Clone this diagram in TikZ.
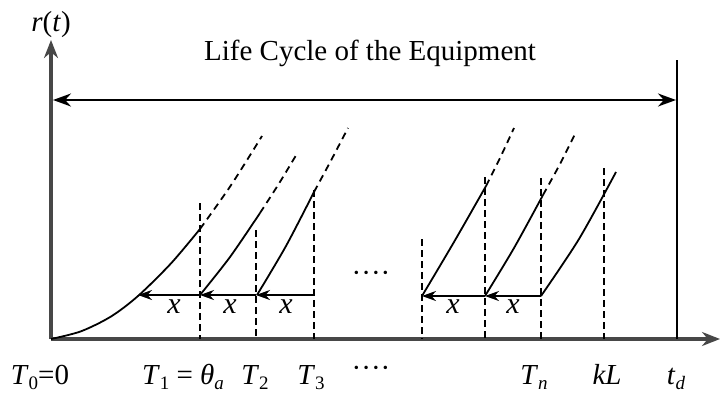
\documentclass[tikz,border=0pt]{standalone}
\usepackage{fontspec}
\setmainfont{Liberation Serif}
\usetikzlibrary{arrows.meta}
\newcommand\sbs[1]{\raisebox{-0.4ex}{\fontsize{19}{19}\selectfont #1}}
\tikzset{
  axisline/.style={line width=3.2pt, draw=black!72, -{Stealth[length=18pt,width=14pt]}},
  lifeline/.style={line width=2.2pt, {Stealth[length=18pt,width=13pt]}-{Stealth[length=18pt,width=13pt]}},
  curvesolid/.style={line width=1.8pt},
  curvedash/.style={line width=1.8pt, dash pattern=on 7pt off 5pt},
  vdash/.style={line width=1.6pt, dash pattern=on 7pt off 4pt},
  shiftarrow/.style={line width=2pt, -{Stealth[length=14pt,width=10pt]}},
  lbl/.style={inner sep=0pt, anchor=base, font=\fontsize{29}{31}\selectfont},
  xlbl/.style={inner sep=0pt, font=\fontsize{30}{31}\selectfont\itshape}
}
\begin{document}
\begin{tikzpicture}[x=1pt,y=-1pt]
\useasboundingbox (0,0) rectangle (720,394);
% axes
\coordinate (O) at (51,339);
\coordinate (ytop) at (51,40);
\coordinate (xend) at (720,339);
\draw[axisline] (O) -- (ytop);
\draw[axisline] (O) -- (xend);
\node[lbl] (rt) at (51,31) {\textit{r}(\textit{t})};
% life cycle
\node[lbl] (title) at (370,60) {Life Cycle of the Equipment};
\coordinate (lcL) at (53,100);
\coordinate (lcR) at (676,100);
\draw[lifeline] (lcL) -- (lcR);
\coordinate (tdtop) at (677,60);
\coordinate (tdbot) at (677,339);
\draw[line width=2pt] (tdtop) -- (tdbot);
% dashed verticals
\foreach \xx/\yy/\nm in {200/203/v1, 256/230/v2, 314/190/v3, 422/239/v4, 485/177/v5, 541/178/v6, 604/168/v7}{
  \coordinate (\nm t) at (\xx,\yy);
  \coordinate (\nm b) at (\xx,339);
  \draw[vdash] (\nm t) -- (\nm b);
}
% curves
\draw[curvesolid] plot[smooth] coordinates {(51,339) (81,331.3) (111,316.5) (138,296) (171,263.4) (200,229)};
\draw[curvedash] plot[smooth] coordinates {(200,229) (231,185.2) (262,136)};
\draw[curvesolid] plot[smooth] coordinates {(200,295) (230,257) (260,213)};
\draw[curvedash] plot[smooth] coordinates {(260,213) (279,183.5) (298,152)};
\draw[curvesolid] plot[smooth] coordinates {(257,295) (286,246) (314,192)};
\draw[curvedash] plot[smooth] coordinates {(314,192) (331,160.5) (348,128)};
\draw[curvesolid] plot[smooth] coordinates {(422,296) (454,242) (486,186)};
\draw[curvedash] plot[smooth] coordinates {(486,186) (500,158) (514,128)};
\draw[curvesolid] plot[smooth] coordinates {(485,296) (514,248) (543,195)};
\draw[curvedash] plot[smooth] coordinates {(543,195) (560,164) (576,132)};
\draw[curvesolid] plot[smooth] coordinates {(541,296) (579,239) (616,172)};
% shift arrows
\coordinate (a0) at (314,295);
\coordinate (a1) at (256,295);
\coordinate (a2) at (200,295);
\coordinate (a3) at (138,295);
\draw[shiftarrow] (a0) -- (a1);
\draw[shiftarrow] (a1) -- (a2);
\draw[shiftarrow] (a2) -- (a3);
\coordinate (b0) at (541,296);
\coordinate (b1) at (485,296);
\coordinate (b2) at (422,296);
\draw[shiftarrow] (b0) -- (b1);
\draw[shiftarrow] (b1) -- (b2);
\node[xlbl] (x1) at (174,307) {x};
\node[xlbl] (x2) at (230,307) {x};
\node[xlbl] (x3) at (286,307) {x};
\node[xlbl] (x4) at (453,307) {x};
\node[xlbl] (x5) at (513,307) {x};
% dots
\node[lbl] (dots1) at (371,282) {····};
\node[lbl] (dots2) at (371,377) {····};
% bottom labels
\node[lbl] (T0) at (40,384) {\textit{T}\sbs{0}=0};
\node[lbl] (T1) at (183,384) {\textit{T}\sbs{1} = \textit{θ}\sbs{\textit{a}}};
\node[lbl] (T2) at (255,384) {\textit{T}\sbs{2}};
\node[lbl] (T3) at (311,384) {\textit{T}\sbs{3}};
\node[lbl] (Tn) at (534,384) {\textit{T}\sbs{\textit{n}}};
\node[lbl] (kL) at (607,384) {\textit{kL}};
\node[lbl] (td) at (676,384) {\textit{t}\sbs{\textit{d}}};
\end{tikzpicture}
\end{document}
